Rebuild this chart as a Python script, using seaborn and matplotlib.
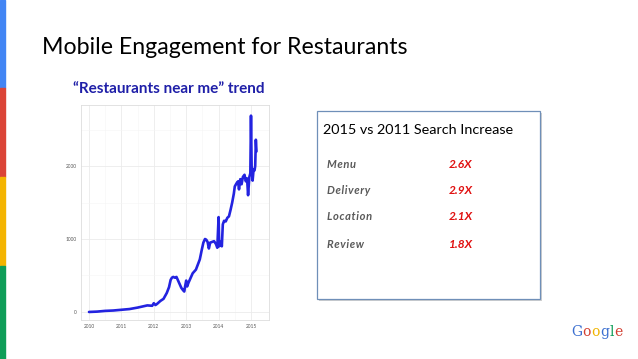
import pandas as pd
import seaborn as sns
import matplotlib.pyplot as plt
from matplotlib.patches import Rectangle

"""Trend values read off the slide (decimal year, index)"""
years = [2010.0, 2010.25, 2010.5, 2010.75, 2011.0, 2011.25, 2011.5, 2011.65, 2011.8, 2011.95,
         2012.0, 2012.05, 2012.1, 2012.2, 2012.3, 2012.4, 2012.47, 2012.52, 2012.56, 2012.6,
         2012.65, 2012.7, 2012.75, 2012.8, 2012.85, 2012.9, 2012.94, 2012.97, 2013.0, 2013.03,
         2013.07, 2013.12, 2013.2, 2013.3, 2013.36, 2013.42, 2013.48, 2013.53, 2013.58, 2013.62,
         2013.66, 2013.7, 2013.74, 2013.8, 2013.86, 2013.92, 2013.96, 2014.0, 2014.02, 2014.05,
         2014.08, 2014.1, 2014.13, 2014.17, 2014.22, 2014.27, 2014.32, 2014.37, 2014.42, 2014.47,
         2014.5, 2014.55, 2014.6, 2014.63, 2014.67, 2014.71, 2014.75, 2014.8, 2014.84, 2014.88,
         2014.91, 2014.95, 2014.98, 2015.0, 2015.02, 2015.05, 2015.08, 2015.11, 2015.13, 2015.15,
         2015.17]
trend = [0, 5, 15, 20, 30, 40, 60, 75, 90, 85,
         120, 95, 110, 150, 180, 260, 340, 440, 470, 480,
         470, 480, 430, 380, 330, 300, 280, 360, 430, 350,
         400, 450, 530, 580, 650, 720, 850, 950, 1000, 990,
         960, 870, 950, 960, 970, 930, 880, 1300, 900, 960,
         950, 900, 1200, 1250, 1240, 1290, 1310, 1400, 1500, 1620,
         1720, 1760, 1790, 1680, 1820, 1750, 1850, 1880, 1790, 1830,
         1600, 1850, 1900, 2690, 2000, 1800, 1950, 1940, 2000, 2360,
         2200]
df = pd.DataFrame({'year': years, 'trend': trend})

box_title = '2015 vs 2011 Search Increase'
terms = ['Menu', 'Delivery', 'Location', 'Review']
increase = ['2.6X', '2.9X', '2.1X', '1.8X']

sns.set_style('white')
plt.rcParams['font.family'] = ['Lato', 'DejaVu Sans']

W, H = 638, 359
fig = plt.figure(figsize=(W / 100, H / 100), dpi=100)
fig.patch.set_facecolor('white')

"""Google colour strip on the left edge"""
strip = [('#4285f4', 0, 88), ('#db4437', 88, 177), ('#f4b400', 177, 266), ('#0f9d58', 266, 359)]
for c, y0, y1 in strip:
    fig.patches.append(Rectangle((0, 1 - y1 / H), 5 / W, (y1 - y0) / H,
                                 transform=fig.transFigure, color=c, zorder=0))

"""Titles"""
fig.text(42 / W, 1 - 47 / H, 'Mobile Engagement for Restaurants', fontsize=16.7,
         color='black', va='center', ha='left')
fig.text(73 / W, 1 - 89 / H, '\u201cRestaurants near me\u201d trend', fontsize=11,
         color='#1f1fa8', fontweight='bold', va='center', ha='left')

"""Trend chart"""
ax = fig.add_axes([81 / W, 1 - 320 / H, 188 / W, 215 / H])
sns.lineplot(ax=ax, x='year', y='trend', data=df, color='#2323e0', linewidth=1.9)
ax.set_xlim(2009.753, 2015.556)
ax.set_ylim(-110, 2836)
ax.set_xticks([2010, 2011, 2012, 2013, 2014, 2015])
ax.set_xticks([2010.5, 2011.5, 2012.5, 2013.5, 2014.5], minor=True)
ax.set_yticks([0, 1000, 2000])
ax.set_yticks([500, 1500, 2500], minor=True)
ax.grid(which='major', color='#ebebeb', linewidth=0.6)
ax.grid(which='minor', color='#f5f5f5', linewidth=0.4)
ax.set_xlabel('')
ax.set_ylabel('')
ax.tick_params(labelsize=3.4, labelcolor='#555555', length=1.5, width=0.4,
               color='#555555', pad=1.5)
ax.tick_params(which='minor', length=0)
for s in ax.spines.values():
    s.set_color('#dddddd')
    s.set_linewidth(0.6)

"""Search increase box with shadow"""
fig.patches.append(Rectangle((319 / W, 1 - 301 / H), 223 / W, 188 / H,
                             transform=fig.transFigure, facecolor='#d0d0d0',
                             edgecolor='none', zorder=1))
fig.patches.append(Rectangle((317 / W, 1 - 299 / H), 223 / W, 188 / H,
                             transform=fig.transFigure, facecolor='white',
                             edgecolor='#6f8fb8', linewidth=0.9, zorder=2))
fig.text(323 / W, 1 - 130 / H, box_title, fontsize=10.4, color='black',
         va='center', ha='left', zorder=3)
row_y = [164, 191, 217, 244]
for t, v, y in zip(terms, increase, row_y):
    fig.text(327 / W, 1 - y / H, '\u200a'.join(t), fontsize=8,
             color='#5a5a5a', style='italic', fontweight='bold',
             va='center', ha='left', zorder=3)
    fig.text(449 / W, 1 - y / H, v, fontsize=8.6, color='#e01010', style='italic',
             fontweight='bold', va='center', ha='left', zorder=3)

"""Google logo, letters laid side by side"""
logo = [('G', '#3b6fd0'), ('o', '#d23f31'), ('o', '#f0b400'), ('g', '#3b6fd0'),
        ('l', '#0f9d58'), ('e', '#d23f31')]
renderer = fig.canvas.get_renderer()
x = 571.0
for ch, c in logo:
    t = fig.text(x / W, 1 - 332 / H, ch, fontsize=10, color=c, family='DejaVu Serif',
                 va='center', ha='left')
    bb = t.get_window_extent(renderer)
    x = bb.x1 + 0.4

fig.savefig('out.png', dpi=100)
